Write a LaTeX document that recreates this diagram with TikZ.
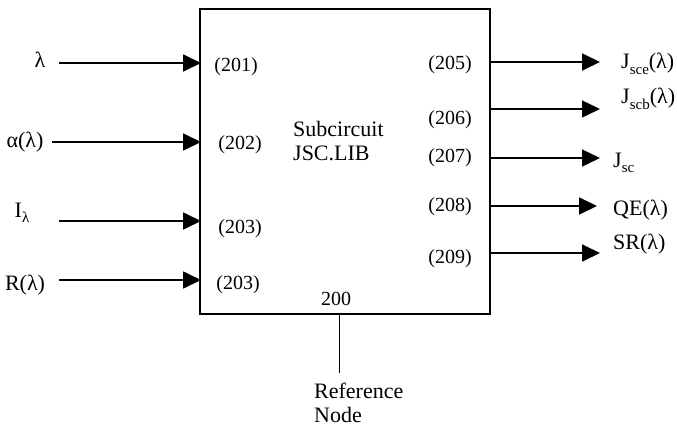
\documentclass[tikz,border=0pt]{standalone}
\usepackage{fontspec}
\setmainfont{Liberation Serif}
\usetikzlibrary{arrows.meta}
\newcommand{\sub}[1]{\raisebox{-0.25em}{\fontsize{15}{15}\selectfont #1}}
\begin{document}
\begin{tikzpicture}[x=1pt,y=-1pt,
  lbl/.style={inner sep=0pt,font=\fontsize{20}{24}\selectfont},
  word/.style={inner sep=0pt,font=\fontsize{22}{24}\selectfont},
  sig/.style={line width=1.8pt,-{Triangle[length=18pt,width=17pt]}},
  pin/.style={line width=1.5pt}]
\useasboundingbox (0,0) rectangle (677,437);

% subcircuit block
\draw[pin] (200,9) rectangle (490,314);

% input signals
\node[word] (lam) at (40,60) {λ};
\node[word] (alf) at (25,142) {α(λ)};
\node[word] (il)  at (22,213) {I\sub{λ}};
\node[word] (rl)  at (25,285) {R(λ)};
\coordinate (i1s) at (59,63);  \coordinate (i1e) at (201,63);
\coordinate (i2s) at (52,142); \coordinate (i2e) at (201,142);
\coordinate (i3s) at (59,221); \coordinate (i3e) at (201,221);
\coordinate (i4s) at (59,280); \coordinate (i4e) at (201,280);
\draw[sig] (i1s) -- (i1e);
\draw[sig] (i2s) -- (i2e);
\draw[sig] (i3s) -- (i3e);
\draw[sig] (i4s) -- (i4e);

% input pin numbers
\node[lbl] (p201) at (236,67) {(201)};
\node[lbl] (p202) at (240,145) {(202)};
\node[lbl] (p203a) at (240,229) {(203)};
\node[lbl] (p203b) at (238,285) {(203)};

% output pin numbers
\node[lbl] (p205) at (450,65) {(205)};
\node[lbl] (p206) at (450,120) {(206)};
\node[lbl] (p207) at (450,158) {(207)};
\node[lbl] (p208) at (450,207) {(208)};
\node[lbl] (p209) at (450,259) {(209)};

% output signals
\coordinate (o1s) at (490,62);  \coordinate (o1e) at (600,62);
\coordinate (o2s) at (490,109); \coordinate (o2e) at (600,109);
\coordinate (o3s) at (490,158); \coordinate (o3e) at (600,158);
\coordinate (o4s) at (490,206); \coordinate (o4e) at (597,206);
\coordinate (o5s) at (490,253); \coordinate (o5e) at (600,253);
\draw[sig] (o1s) -- (o1e);
\draw[sig,line width=1.4pt] (o2s) -- (o2e);
\draw[sig,line width=1.4pt] (o3s) -- (o3e);
\draw[sig] (o4s) -- (o4e);
\draw[sig] (o5s) -- (o5e);

\node[word,anchor=west] (jsce) at (621,64) {J\sub{sce}(λ)};
\node[word,anchor=west] (jscb) at (621,99) {J\sub{scb}(λ)};
\node[word,anchor=west] (jsc)  at (613,163) {J\sub{sc}};
\node[word,anchor=west] (qe)   at (613,210) {QE(λ)};
\node[word,anchor=west] (sr)   at (613,244) {SR(λ)};

% block title
\node[word,anchor=west,align=left] (title) at (293,141) {Subcircuit\\JSC.LIB};

% reference node
\node[lbl] (n200) at (336,299) {200};
\coordinate (gtop) at (339,314);
\coordinate (gbot) at (339,373);
\draw[line width=1pt] (gtop) -- (gbot);
\node[word,anchor=west,align=left] (ref) at (314,403) {Reference\\Node};
\end{tikzpicture}
\end{document}
